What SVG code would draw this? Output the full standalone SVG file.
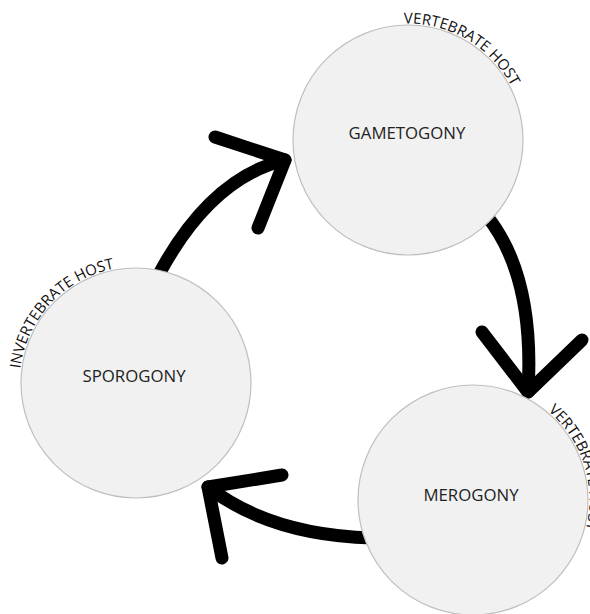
<svg xmlns="http://www.w3.org/2000/svg" width="590" height="614" viewBox="0 0 590 614">
<style>
.node{fill:#f1f1f1;stroke:#bfbfbf;stroke-width:1.2}
.lbl{font-family:"Open Sans","Liberation Sans",sans-serif;font-size:16.8px;fill:#222;text-anchor:middle}
.arc{font-family:"Open Sans","Liberation Sans",sans-serif;font-size:15px;fill:#111}
.conn path{fill:none;stroke:#000;stroke-width:13;stroke-linecap:round;stroke-linejoin:round}
</style>
<defs>
<path id="arcG" d="M 403.9 23.6 A 116.5 116.5 0 0 1 524.5 140"/>
<path id="arcS" d="M 20.4 368.8 A 116.5 116.5 0 0 1 194.3 282.1"/>
<path id="arcM" d="M 547.9 410.8 A 116.5 116.5 0 0 1 531.3 600.9"/>
</defs>
<g id="connectors" class="conn">
<path d="M 158 276 Q 210 178 285 160"/>
<path d="M 215 137 L 285 160 L 258 228"/>
<path d="M 486 215 Q 535 275 528 392"/>
<path d="M 482 332 L 528 392 L 582 340"/>
<path d="M 372 538 Q 270 535 208 487"/>
<path d="M 282 475 L 208 487 L 222 558"/>
</g>
<g id="gametogony">
<circle class="node" cx="408" cy="140" r="115"/>
<text class="lbl" x="407" y="139">GAMETOGONY</text>
<text class="arc"><textPath href="#arcG">VERTEBRATE HOST</textPath></text>
</g>
<g id="sporogony">
<circle class="node" cx="136" cy="383" r="115"/>
<text class="lbl" x="134" y="382">SPOROGONY</text>
<text class="arc"><textPath href="#arcS">INVERTEBRATE HOST</textPath></text>
</g>
<g id="merogony">
<circle class="node" cx="473" cy="500" r="115"/>
<text class="lbl" x="471" y="501">MEROGONY</text>
<text class="arc"><textPath href="#arcM">VERTEBRATE HOST</textPath></text>
</g>
</svg>
